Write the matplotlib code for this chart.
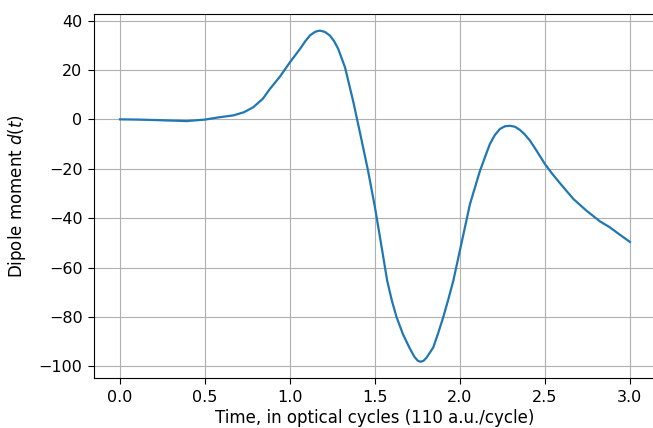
import numpy as np
import matplotlib.pyplot as plt

# time in optical cycles, dipole moment
t = [0.0, 0.1, 0.216, 0.3, 0.392, 0.5, 0.58, 0.667, 0.73, 0.784, 0.84, 0.882, 0.941,
     1.0, 1.059, 1.09, 1.118, 1.15, 1.176, 1.205, 1.235, 1.26, 1.284, 1.324, 1.373,
     1.42, 1.46, 1.5, 1.54, 1.572, 1.6, 1.627, 1.665, 1.702, 1.731, 1.752, 1.769,
     1.786, 1.804, 1.843, 1.872, 1.902, 1.931, 1.961, 2.0, 2.059, 2.118, 2.15, 2.176,
     2.205, 2.235, 2.265, 2.294, 2.324, 2.353, 2.38, 2.412, 2.45, 2.5, 2.545, 2.588,
     2.667, 2.745, 2.824, 2.882, 2.941, 3.0]
d = [0.0, -0.1, -0.3, -0.5, -0.7, -0.1, 0.8, 1.6, 2.9, 4.9, 8.3, 12.3, 17.3,
     23.1, 28.5, 31.6, 34.0, 35.5, 35.9, 35.4, 33.9, 31.6, 28.5, 21.0, 7.0,
     -8.0, -21.0, -35.6, -52.0, -65.3, -73.5, -80.0, -87.0, -92.3, -96.0, -97.7, -98.1,
     -97.7, -96.4, -92.3, -86.5, -80.0, -73.0, -65.3, -53.0, -34.3, -20.8, -14.8, -10.0,
     -6.4, -3.9, -2.8, -2.6, -3.0, -4.3, -6.0, -8.6, -12.6, -18.1, -22.2, -25.8,
     -32.2, -37.0, -41.3, -43.7, -46.7, -49.6]

plt.rcParams['font.size'] = 12
plt.rcParams['xtick.labelsize'] = 11.5
plt.rcParams['ytick.labelsize'] = 11.5
plt.rcParams['xtick.major.size'] = 4.3
plt.rcParams['ytick.major.size'] = 4.3
plt.rcParams['xtick.major.pad'] = 4.3
plt.rcParams['ytick.major.pad'] = 4.3

fig = plt.figure(figsize=(6.53, 4.28), dpi=100)
ax = fig.add_axes([0.1447, 0.1161, 0.859, 0.851])
ax.plot(t, d, color='#1f77b4', linewidth=1.6)
ax.grid(True)
ax.set_xlabel('Time, in optical cycles (110 a.u./cycle)', labelpad=3)
ax.set_ylabel('Dipole moment $d(t)$', labelpad=8)
fig.savefig('out.png', dpi=100)
